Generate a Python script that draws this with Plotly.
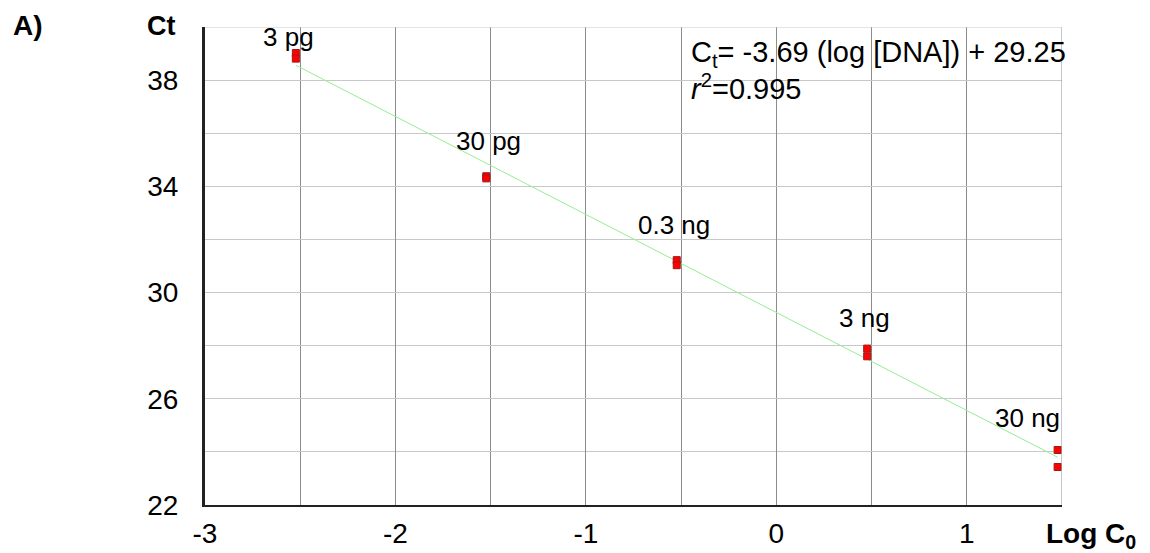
import plotly.graph_objects as go

# ---- data ----
amounts = ["3 pg", "30 pg", "0.3 ng", "3 ng", "30 ng"]
log_c0 = [-2.523, -1.523, -0.523, 0.477, 1.477]
ct_rep1 = [39.02, 34.38, 31.22, 27.89, 24.07]
ct_rep2 = [38.81, 34.30, 31.03, 27.60, 23.43]
fit_slope = -3.69
fit_intercept = 29.25
x_tick_vals = [-3, -2, -1, 0, 1]
x_tick_text = ["-3", "-2", "-1", "0", "1"]
y_tick_vals = [22, 26, 30, 34, 38]
y_tick_text = ["22", "26", "30", "34", "38"]
label_x = [-2.559, -1.514, -0.537, 0.465, 1.32]
label_y = [39.62, 35.71, 32.55, 29.04, 25.26]

FONT = "Liberation Sans, Arial, sans-serif"

fig = go.Figure()

# regression line
fit_x = [log_c0[0], log_c0[-1]]
fit_y = [fit_slope * v + fit_intercept for v in fit_x]
fig.add_trace(go.Scatter(x=fit_x, y=fit_y, mode="lines",
                         line=dict(color="#94ee94", width=1),
                         hoverinfo="skip", showlegend=False))

# replicate points
pts_x = log_c0 + log_c0
pts_y = ct_rep1 + ct_rep2
fig.add_trace(go.Scatter(x=pts_x, y=pts_y, mode="markers",
                         marker=dict(symbol="square", size=7, color="#ff0000",
                                     line=dict(color="#9a1a1a", width=1)),
                         showlegend=False))

# point labels
for t, lx, ly in zip(amounts, label_x, label_y):
    fig.add_annotation(x=lx, y=ly, text=t, showarrow=False,
                       xanchor="center", yanchor="middle",
                       font=dict(size=26, color="black", family=FONT))

# equation
fig.add_annotation(x=-0.458, y=38.98, text="C<sub>t</sub>= -3.69 (log [DNA]) + 29.25",
                   showarrow=False, xanchor="left", yanchor="middle",
                   font=dict(size=29, color="black", family=FONT))
fig.add_annotation(x=-0.458, y=37.75, text="<i>r</i><sup>2</sup>=0.995",
                   showarrow=False, xanchor="left", yanchor="middle",
                   font=dict(size=29, color="black", family=FONT))

# axis titles / panel label
fig.add_annotation(xref="paper", yref="paper", x=-0.0502, y=1.002, text="<b>Ct</b>",
                   showarrow=False, xanchor="center", yanchor="middle",
                   font=dict(size=27, color="black", family=FONT))
fig.add_annotation(xref="paper", yref="paper", x=-0.2065, y=1.004, text="<b>A)</b>",
                   showarrow=False, xanchor="center", yanchor="middle",
                   font=dict(size=28, color="black", family=FONT))
fig.add_annotation(xref="paper", yref="paper", x=1.034, y=-0.0628,
                   text="<b>Log C<sub>0</sub></b>",
                   showarrow=False, xanchor="center", yanchor="middle",
                   font=dict(size=28, color="black", family=FONT))

fig.update_layout(
    width=1150, height=553,
    margin=dict(l=205, r=88, t=27, b=48),
    paper_bgcolor="white", plot_bgcolor="white",
    font=dict(family=FONT, color="black"),
    xaxis=dict(range=[-3, 1.5], tickvals=x_tick_vals, ticktext=x_tick_text,
               showgrid=True, gridcolor="#8c8c8c", gridwidth=1,
               minor=dict(tick0=-3, dtick=0.5, showgrid=True, gridcolor="#8c8c8c", gridwidth=1),
               zeroline=False, showline=True, linecolor="#222222", linewidth=2,
               ticks="", ticklabelstandoff=2, automargin=False,
               tickfont=dict(size=28, family=FONT, color="black")),
    yaxis=dict(range=[22, 40], tickvals=y_tick_vals, ticktext=y_tick_text,
               showgrid=True, gridcolor="#c8c8c8", gridwidth=1,
               minor=dict(tick0=22, dtick=2, showgrid=True, gridcolor="#c8c8c8", gridwidth=1),
               zeroline=False, showline=True, linecolor="#222222", linewidth=3,
               ticks="", ticklabelstandoff=18, automargin=False,
               tickfont=dict(size=28, family=FONT, color="black")),
)

# right border (gridline at range end) and top gridline
fig.add_shape(type="line", xref="x", yref="paper", x0=1.5, x1=1.5, y0=0, y1=1,
              line=dict(color="#8c8c8c", width=1))
fig.add_shape(type="line", xref="paper", yref="y", x0=0, x1=1, y0=40, y1=40,
              line=dict(color="#c8c8c8", width=1))

fig.write_html("out.html")
